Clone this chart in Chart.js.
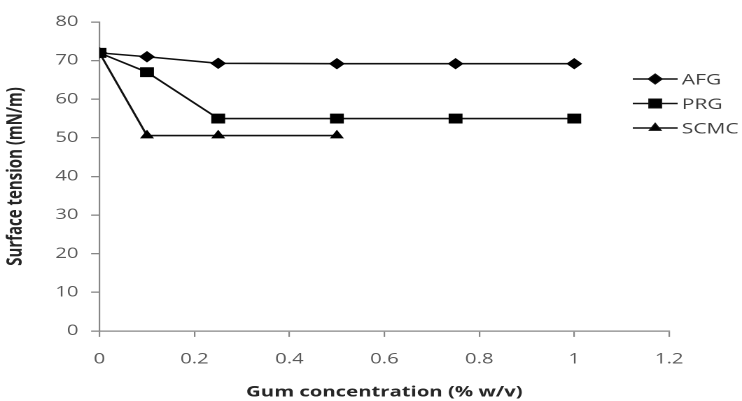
<!DOCTYPE html>
<html>
<head>
<meta charset="utf-8">
<script src="https://cdn.jsdelivr.net/npm/chart.js@4"></script>
<style>
  html, body { margin: 0; padding: 0; background: #fff; overflow: hidden; }
  /* the original figure is stretched sideways, so draw narrow and stretch */
  #wrap { width: 530px; height: 401px; transform: scaleX(1.4); transform-origin: 0 0; }
</style>
</head>
<body>
<div id="wrap"><canvas id="myChart"></canvas></div>
<script>
// gum concentration (% w/v) for each series
var afgConc = [0, 0.1, 0.25, 0.5, 0.75, 1];
var prgConc = [0, 0.1, 0.25, 0.5, 0.75, 1];
var scmcConc = [0, 0.1, 0.25, 0.5];

// surface tension (mN/m)
var afgValues = [72, 71, 69.3, 69.2, 69.2, 69.2];
var prgValues = [72, 67, 55, 55, 55, 55];
var scmcValues = [72, 50.6, 50.6, 50.6];

var seriesNames = ["AFG", "PRG", "SCMC"];
var yTicks = [0, 10, 20, 30, 40, 50, 60, 70, 80];
var xTicks = [0, 0.2, 0.4, 0.6, 0.8, 1, 1.2];

var FONT = '"Open Sans", sans-serif';

function toPoints(xs, ys) {
    var pts = [];
    for (var i = 0; i < xs.length; i++) {
        pts.push({x: xs[i], y: ys[i]});
    }
    return pts;
}

// legend like the excel one: short line with the marker in the middle
var lineLegend = {
    id: 'lineLegend',
    afterDraw: function (chart) {
        var ctx = chart.ctx;
        var x0 = 452, len = 32, y0 = 79, gap = 24.5;
        ctx.save();
        chart.data.datasets.forEach(function (ds, i) {
            var y = y0 + i * gap;
            ctx.strokeStyle = '#111';
            ctx.fillStyle = '#000';
            ctx.lineWidth = 1.6;
            ctx.beginPath();
            ctx.moveTo(x0, y);
            ctx.lineTo(x0 + len, y);
            ctx.stroke();
            ctx.lineWidth = 1;
            Chart.helpers.drawPoint(ctx, {
                pointStyle: ds.pointStyle,
                radius: ds.pointRadius,
                borderWidth: 1
            }, x0 + len / 2, y);
            ctx.fillStyle = '#404040';
            ctx.font = '15px ' + FONT;
            ctx.textBaseline = 'middle';
            ctx.fillText(ds.label, x0 + len + 3, y + 1);
        });
        ctx.restore();
    }
};

var ctx = document.getElementById('myChart').getContext('2d');
var chart = new Chart(ctx, {
    type: 'line',
    data: {
        datasets: [{
            label: seriesNames[0],
            data: toPoints(afgConc, afgValues),
            borderColor: '#111',
            backgroundColor: '#000',
            pointBorderColor: '#000',
            borderWidth: 1.6,
            pointStyle: 'rectRot',
            pointRadius: 5,
            pointBorderWidth: 1
        }, {
            label: seriesNames[1],
            data: toPoints(prgConc, prgValues),
            borderColor: '#111',
            backgroundColor: '#000',
            pointBorderColor: '#000',
            borderWidth: 1.6,
            pointStyle: 'rect',
            pointRadius: 6.3,
            pointBorderWidth: 1
        }, {
            label: seriesNames[2],
            data: toPoints(scmcConc, scmcValues),
            borderColor: '#111',
            backgroundColor: '#000',
            pointBorderColor: '#000',
            borderWidth: 1.6,
            pointStyle: 'triangle',
            pointRadius: 4.8,
            pointBorderWidth: 1
        }]
    },
    options: {
        responsive: true,
        maintainAspectRatio: false,
        animation: false,
        devicePixelRatio: 2,
        layout: {padding: {left: 2, right: 52, top: 22, bottom: 0}},
        plugins: {
            legend: {display: false},
            tooltip: {enabled: false}
        },
        scales: {
            x: {
                type: 'linear',
                min: 0,
                max: 1.2,
                afterBuildTicks: function (axis) {
                    axis.ticks = xTicks.map(function (v) { return {value: v}; });
                },
                border: {color: '#868686', width: 1.3},
                grid: {drawOnChartArea: false, drawTicks: true, tickLength: 6, color: '#868686', lineWidth: 1.1},
                ticks: {
                    color: '#595959',
                    padding: 14,
                    maxRotation: 0,
                    font: {family: FONT, size: 14.5},
                    callback: function (v) { return String(v); }
                },
                title: {
                    display: true,
                    text: 'Gum concentration (% w/v)',
                    color: '#262626',
                    padding: {top: 1.3, bottom: 0},
                    font: {family: FONT, size: 14.5, weight: 'bold'}
                }
            },
            y: {
                min: 0,
                max: 80,
                afterBuildTicks: function (axis) {
                    axis.ticks = yTicks.map(function (v) { return {value: v}; });
                },
                border: {color: '#868686', width: 1.1},
                grid: {drawOnChartArea: false, drawTicks: true, tickLength: 6, color: '#868686', lineWidth: 1.3},
                ticks: {
                    color: '#595959',
                    padding: 9,
                    font: {family: FONT, size: 14.5}
                },
                title: {
                    display: true,
                    text: 'Surface tension (mN/m)',
                    color: '#262626',
                    padding: {top: 0, bottom: 10.5},
                    font: {family: FONT, size: 15, weight: 'bold'}
                }
            }
        }
    },
    plugins: [lineLegend]
});
</script>
</body>
</html>
